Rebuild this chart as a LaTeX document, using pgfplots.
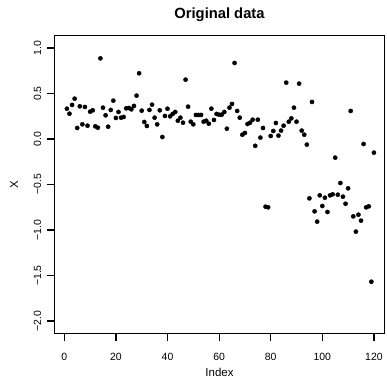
\documentclass[border=0pt]{standalone}
\usepackage{pgfplots}
\pgfplotsset{compat=1.18}
\usepackage{fontspec}
\setmainfont{Liberation Sans}
\begin{document}
\begin{tikzpicture}
\path (0,0) rectangle (387bp,378bp);
\begin{axis}[
  at={(54.5bp,44.5bp)}, anchor=south west,
  scale only axis, width=330bp, height=298bp,
  xmin=-3.80, xmax=124.10, ymin=-2.137, ymax=1.137,
  axis line style={draw=black, line width=1bp},
  tick style={draw=black, line width=1.2bp},
  tick align=outside, tick pos=left, major tick length=7.5bp,
  xtick={0,20,40,60,80,100,120},
  ytick={-2,-1.5,-1,-0.5,0,0.5,1},
  yticklabels={−2.0,−1.5,−1.0,−0.5,0.0,0.5,1.0},
  /pgf/number format/assume math mode=true,
  tick label style={font=\fontsize{10.5}{12}\selectfont},
  xticklabel style={anchor=center, yshift=-15.9bp},
  yticklabel style={rotate=90, anchor=center, yshift=9.5bp},
  xlabel={Index}, ylabel={X},
  label style={font=\fontsize{11.5}{13}\selectfont},
  xlabel style={at={(rel axis cs:0.5,-0.13)}, anchor=center},
  ylabel style={at={(rel axis cs:-0.1224,0.5)}, anchor=center},
  title={Original data},
  title style={at={(rel axis cs:0.5,1.0487)}, anchor=center, font=\bfseries\fontsize{14.8}{16}\selectfont},
]
\addplot[only marks, mark=*, mark size=2.1bp, black] table[x=i, y=v] {
i v
1 0.333
2 0.278
3 0.374
4 0.443
5 0.121
6 0.359
7 0.161
8 0.352
9 0.146
10 0.300
11 0.315
12 0.139
13 0.124
14 0.886
15 0.344
16 0.260
17 0.135
18 0.319
19 0.421
20 0.231
21 0.297
22 0.234
23 0.242
24 0.337
25 0.341
26 0.326
27 0.363
28 0.476
29 0.722
30 0.311
31 0.187
32 0.143
33 0.319
34 0.377
35 0.234
36 0.161
37 0.315
38 0.022
39 0.253
40 0.333
41 0.249
42 0.275
43 0.297
44 0.201
45 0.234
46 0.179
47 0.652
48 0.355
49 0.190
50 0.161
51 0.264
52 0.264
53 0.264
54 0.190
55 0.201
56 0.168
57 0.333
58 0.209
59 0.275
60 0.267
61 0.267
62 0.297
63 0.113
64 0.344
65 0.385
66 0.835
67 0.308
68 0.234
69 0.047
70 0.066
71 0.165
72 0.179
73 0.212
74 -0.075
75 0.212
76 0.015
77 0.121
78 -0.744
79 -0.751
80 0.033
81 0.088
82 0.176
83 0.037
84 0.092
85 0.146
86 0.619
87 0.190
88 0.227
89 0.344
90 0.190
91 0.608
92 0.092
93 0.047
94 -0.062
95 -0.652
96 0.407
97 -0.795
98 -0.908
99 -0.619
100 -0.736
101 -0.645
102 -0.802
103 -0.619
104 -0.608
105 -0.205
106 -0.612
107 -0.484
108 -0.634
109 -0.711
110 -0.542
111 0.308
112 -0.850
113 -1.018
114 -0.832
115 -0.897
116 -0.055
117 -0.751
118 -0.740
119 -1.568
120 -0.150
};
\end{axis}
\end{tikzpicture}
\end{document}
